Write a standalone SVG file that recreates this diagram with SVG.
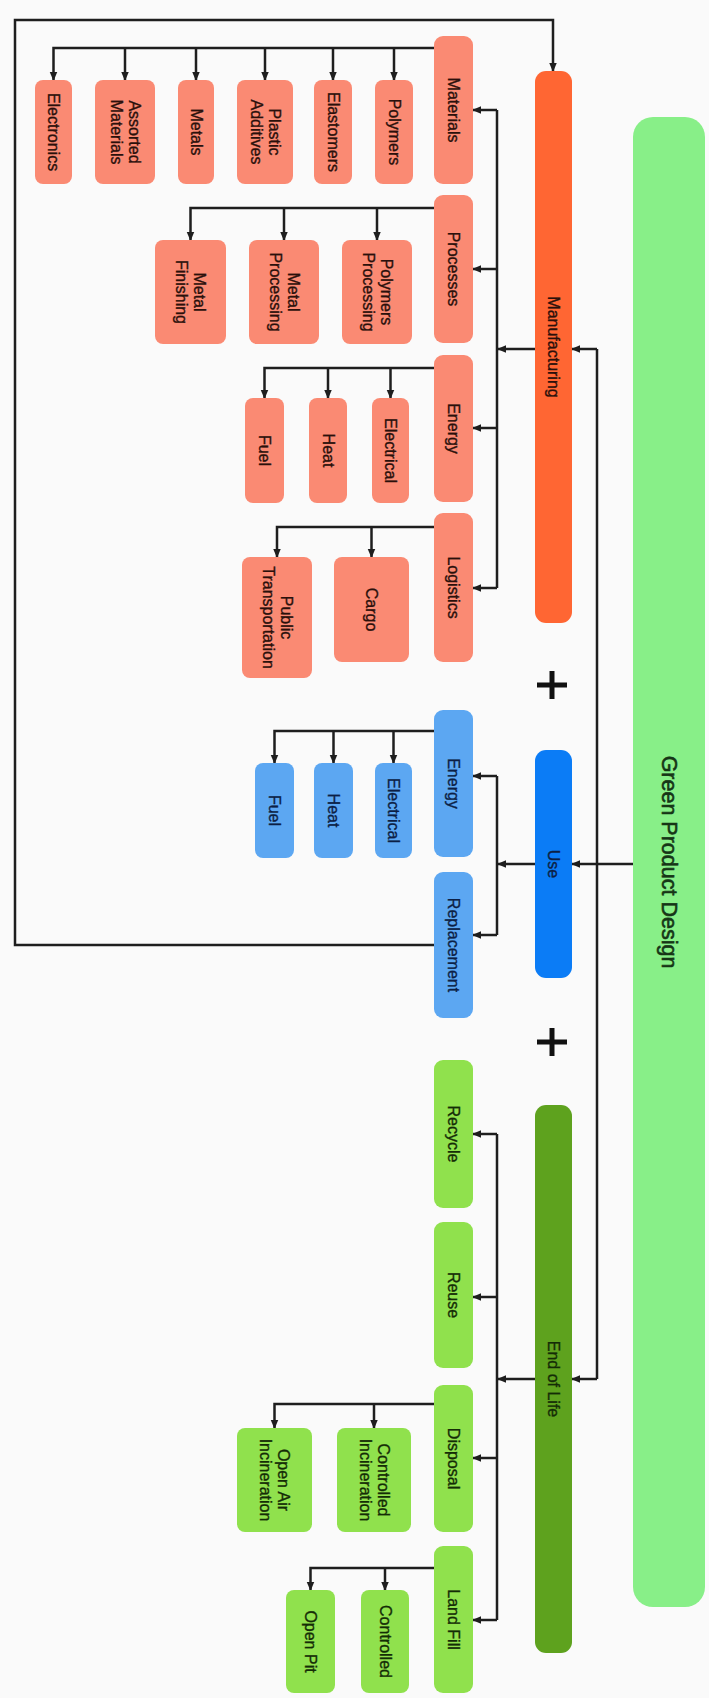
<svg xmlns="http://www.w3.org/2000/svg" width="709" height="1698" viewBox="0 0 709 1698">
<defs>
<style>
.bg{fill:#FAFAFA}
.mfg{fill:#FF6633}
.sal{fill:#FA8A73}
.use{fill:#0B7CF6}
.lb{fill:#5CA7F2}
.eol{fill:#5EA21E}
.lg{fill:#90E14D}
.gpd{fill:#88EF88}
.t{font-family:"Liberation Sans",Arial,sans-serif;font-size:16px;text-anchor:middle;fill:#1c1c1c;stroke-width:0.35px}
.ts{fill:#2a100b;stroke:#2a100b}
.tb{fill:#0c1f45;stroke:#0c1f45}
.tg{fill:#142c06;stroke:#142c06}
.big{font-size:21.5px;fill:#163516;stroke:#163516;stroke-width:0.6px}
.c{fill:none;stroke:#1e1e1e;stroke-width:2.5}
.a{marker-end:url(#ah)}
.plus{stroke:#111;stroke-width:5;fill:none}
</style>
<marker id="ah" viewBox="0 0 10 10" refX="9" refY="5" markerWidth="9" markerHeight="9" markerUnits="userSpaceOnUse" orient="auto">
<path d="M0,0.8 L10,5 L0,9.2 z" fill="#1e1e1e"/>
</marker>
</defs>
<rect class="bg" x="0" y="0" width="709" height="1698"/>

<g id="connectors">
<path class="c a" d="M434,945 H15 V20 H553 V71"/>
<path class="c" d="M597,349 V1379"/>
<path class="c a" d="M597,349 H572"/>
<path class="c a" d="M597,1379 H572"/>
<path class="c a" d="M633,864 H572"/>
<path class="c a" d="M535,349 H498"/>
<path class="c" d="M497,110 V588"/>
<path class="c a" d="M497,110 H473"/>
<path class="c a" d="M497,269 H473"/>
<path class="c a" d="M497,428 H473"/>
<path class="c a" d="M497,588 H473"/>
<path class="c a" d="M535,864 H498"/>
<path class="c" d="M497,776 V935"/>
<path class="c a" d="M497,776 H473"/>
<path class="c a" d="M497,935 H473"/>
<path class="c a" d="M535,1379 H498"/>
<path class="c" d="M497,1134 V1620"/>
<path class="c a" d="M497,1134 H473"/>
<path class="c a" d="M497,1297 H473"/>
<path class="c a" d="M497,1458 H473"/>
<path class="c a" d="M497,1620 H473"/>
<path class="c a" d="M434,48 H53.5 V80"/>
<path class="c a" d="M125,48 V80"/>
<path class="c a" d="M196,48 V80"/>
<path class="c a" d="M265,48 V80"/>
<path class="c a" d="M333,48 V80"/>
<path class="c a" d="M394,48 V80"/>
<path class="c a" d="M434,208 H190.5 V240"/>
<path class="c a" d="M284,208 V240"/>
<path class="c a" d="M377,208 V240"/>
<path class="c a" d="M434,368 H264.5 V398"/>
<path class="c a" d="M328,368 V398"/>
<path class="c a" d="M390.5,368 V398"/>
<path class="c a" d="M434,527 H277 V557"/>
<path class="c a" d="M371.5,527 V557"/>
<path class="c a" d="M434,731 H274.5 V763"/>
<path class="c a" d="M333.5,731 V763"/>
<path class="c a" d="M393.5,731 V763"/>
<path class="c a" d="M434,1404 H274.5 V1428"/>
<path class="c a" d="M374,1404 V1428"/>
<path class="c a" d="M434,1568 H310.5 V1590"/>
<path class="c a" d="M385,1568 V1590"/>
</g>

<g id="plus-signs">
<path class="plus" d="M537,685 H567 M552,671 V699"/>
<path class="plus" d="M537,1042 H567 M552,1028 V1056"/>
</g>

<g id="green-product-design"><rect class="gpd" x="633" y="117" width="72" height="1490" rx="20"/><text class="t big" transform="translate(669 862) rotate(90)" y="7.5">Green Product Design</text></g>

<g id="manufacturing"><rect class="mfg" x="535" y="71" width="37" height="552" rx="11"/><text class="t ts" transform="translate(553.5 347) rotate(90)" y="5.5">Manufacturing</text></g>
<g id="use"><rect class="use" x="535" y="750" width="37" height="228" rx="11"/><text class="t tb" transform="translate(553.5 864) rotate(90)" y="5.5">Use</text></g>
<g id="end-of-life"><rect class="eol" x="535" y="1105" width="37" height="548" rx="11"/><text class="t tg" transform="translate(553.5 1379) rotate(90)" y="5.5">End of Life</text></g>

<g id="materials"><rect class="sal" x="434" y="36" width="39" height="148" rx="9"/><text class="t ts" transform="translate(453.5 110) rotate(90)" y="5.5">Materials</text></g>
<g id="processes"><rect class="sal" x="434" y="195" width="39" height="148" rx="9"/><text class="t ts" transform="translate(453.5 269) rotate(90)" y="5.5">Processes</text></g>
<g id="mfg-energy"><rect class="sal" x="434" y="355" width="39" height="147" rx="9"/><text class="t ts" transform="translate(453.5 428.5) rotate(90)" y="5.5">Energy</text></g>
<g id="logistics"><rect class="sal" x="434" y="513" width="39" height="149" rx="9"/><text class="t ts" transform="translate(453.5 587.5) rotate(90)" y="5.5">Logistics</text></g>

<g id="electronics"><rect class="sal" x="35" y="80" width="37" height="104" rx="8"/><text class="t ts" transform="translate(53.5 132) rotate(90)" y="5.5">Electronics</text></g>
<g id="assorted-materials"><rect class="sal" x="95" y="80" width="60" height="104" rx="8"/><text class="t ts" transform="translate(125 132) rotate(90)"><tspan x="0" y="-3.5">Assorted</tspan><tspan x="0" y="14.5">Materials</tspan></text></g>
<g id="metals"><rect class="sal" x="178" y="80" width="36" height="104" rx="8"/><text class="t ts" transform="translate(196 132) rotate(90)" y="5.5">Metals</text></g>
<g id="plastic-additives"><rect class="sal" x="237" y="80" width="56" height="104" rx="8"/><text class="t ts" transform="translate(265 132) rotate(90)"><tspan x="0" y="-3.5">Plastic</tspan><tspan x="0" y="14.5">Additives</tspan></text></g>
<g id="elastomers"><rect class="sal" x="314" y="80" width="38" height="104" rx="8"/><text class="t ts" transform="translate(333 132) rotate(90)" y="5.5">Elastomers</text></g>
<g id="polymers"><rect class="sal" x="375" y="80" width="38" height="104" rx="8"/><text class="t ts" transform="translate(394 132) rotate(90)" y="5.5">Polymers</text></g>

<g id="metal-finishing"><rect class="sal" x="155" y="240" width="71" height="104" rx="8"/><text class="t ts" transform="translate(190.5 292) rotate(90)"><tspan x="0" y="-3.5">Metal</tspan><tspan x="0" y="14.5">Finishing</tspan></text></g>
<g id="metal-processing"><rect class="sal" x="249" y="240" width="70" height="104" rx="8"/><text class="t ts" transform="translate(284 292) rotate(90)"><tspan x="0" y="-3.5">Metal</tspan><tspan x="0" y="14.5">Processing</tspan></text></g>
<g id="polymers-processing"><rect class="sal" x="342" y="240" width="70" height="104" rx="8"/><text class="t ts" transform="translate(377 292) rotate(90)"><tspan x="0" y="-3.5">Polymers</tspan><tspan x="0" y="14.5">Processing</tspan></text></g>

<g id="mfg-fuel"><rect class="sal" x="245" y="398" width="39" height="105" rx="8"/><text class="t ts" transform="translate(264.5 450.5) rotate(90)" y="5.5">Fuel</text></g>
<g id="mfg-heat"><rect class="sal" x="309" y="398" width="38" height="105" rx="8"/><text class="t ts" transform="translate(328 450.5) rotate(90)" y="5.5">Heat</text></g>
<g id="mfg-electrical"><rect class="sal" x="372" y="398" width="37" height="105" rx="8"/><text class="t ts" transform="translate(390.5 450.5) rotate(90)" y="5.5">Electrical</text></g>

<g id="public-transportation"><rect class="sal" x="242" y="557" width="70" height="121" rx="8"/><text class="t ts" transform="translate(277 617.5) rotate(90)"><tspan x="0" y="-3.5">Public</tspan><tspan x="0" y="14.5">Transportation</tspan></text></g>
<g id="cargo"><rect class="sal" x="334" y="557" width="75" height="105" rx="8"/><text class="t ts" transform="translate(371.5 609.5) rotate(90)" y="5.5">Cargo</text></g>

<g id="use-energy"><rect class="lb" x="434" y="710" width="39" height="147" rx="9"/><text class="t tb" transform="translate(453.5 783.5) rotate(90)" y="5.5">Energy</text></g>
<g id="replacement"><rect class="lb" x="434" y="872" width="39" height="146" rx="9"/><text class="t tb" transform="translate(453.5 945) rotate(90)" y="5.5">Replacement</text></g>
<g id="use-fuel"><rect class="lb" x="255" y="763" width="39" height="95" rx="8"/><text class="t tb" transform="translate(274.5 810.5) rotate(90)" y="5.5">Fuel</text></g>
<g id="use-heat"><rect class="lb" x="314" y="763" width="39" height="95" rx="8"/><text class="t tb" transform="translate(333.5 810.5) rotate(90)" y="5.5">Heat</text></g>
<g id="use-electrical"><rect class="lb" x="375" y="763" width="37" height="95" rx="8"/><text class="t tb" transform="translate(393.5 810.5) rotate(90)" y="5.5">Electrical</text></g>

<g id="recycle"><rect class="lg" x="434" y="1060" width="39" height="148" rx="9"/><text class="t tg" transform="translate(453.5 1134) rotate(90)" y="5.5">Recycle</text></g>
<g id="reuse"><rect class="lg" x="434" y="1222" width="39" height="146" rx="9"/><text class="t tg" transform="translate(453.5 1295) rotate(90)" y="5.5">Reuse</text></g>
<g id="disposal"><rect class="lg" x="434" y="1385" width="39" height="147" rx="9"/><text class="t tg" transform="translate(453.5 1458.5) rotate(90)" y="5.5">Disposal</text></g>
<g id="land-fill"><rect class="lg" x="434" y="1546" width="39" height="147" rx="9"/><text class="t tg" transform="translate(453.5 1619.5) rotate(90)" y="5.5">Land Fill</text></g>

<g id="open-air-incineration"><rect class="lg" x="237" y="1428" width="75" height="104" rx="8"/><text class="t tg" transform="translate(274.5 1480) rotate(90)"><tspan x="0" y="-3.5">Open Air</tspan><tspan x="0" y="14.5">Incineration</tspan></text></g>
<g id="controlled-incineration"><rect class="lg" x="337" y="1428" width="74" height="104" rx="8"/><text class="t tg" transform="translate(374 1480) rotate(90)"><tspan x="0" y="-3.5">Controlled</tspan><tspan x="0" y="14.5">Incineration</tspan></text></g>
<g id="open-pit"><rect class="lg" x="286" y="1590" width="49" height="103" rx="8"/><text class="t tg" transform="translate(310.5 1641.5) rotate(90)" y="5.5">Open Pit</text></g>
<g id="controlled"><rect class="lg" x="361" y="1590" width="48" height="103" rx="8"/><text class="t tg" transform="translate(385 1641.5) rotate(90)" y="5.5">Controlled</text></g>
</svg>
